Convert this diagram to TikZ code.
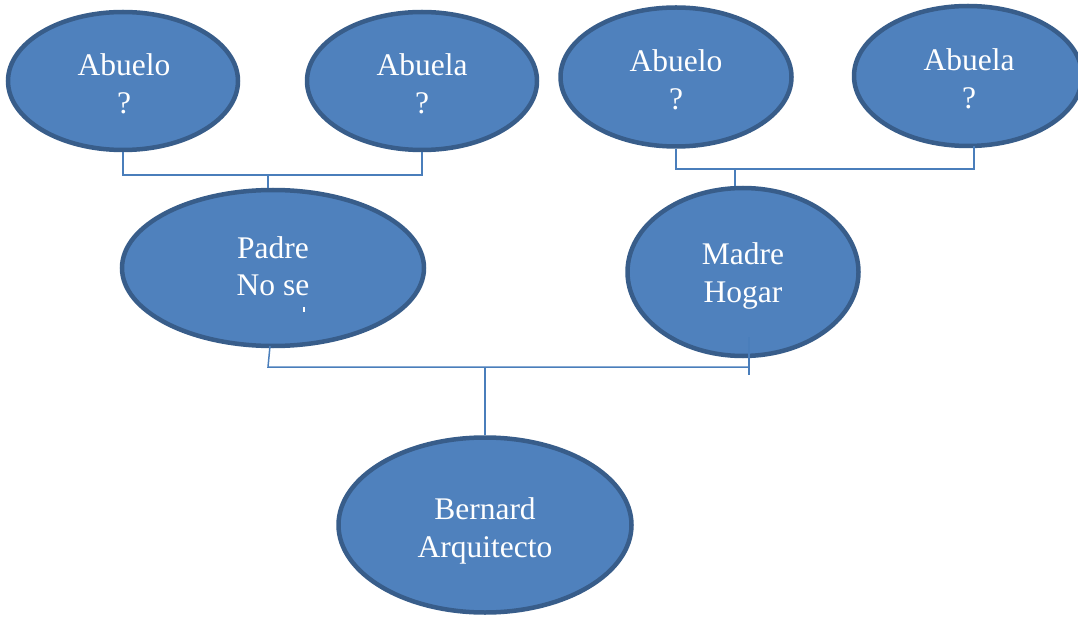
\documentclass[tikz,border=0pt]{standalone}
\usepackage{fontspec}
\setmainfont{Liberation Serif}
\usetikzlibrary{shapes.geometric}
\definecolor{ellfill}{HTML}{4F81BD}
\definecolor{elldraw}{HTML}{385D8A}
\definecolor{linkc}{HTML}{4A7EBB}
\begin{document}
\begin{tikzpicture}[x=1pt,y=-1pt,
  person/.style={ellipse, fill=ellfill, draw=elldraw, line width=4.5pt, inner sep=0pt},
  ptext/.style={text=white, align=center, inner sep=0pt, font=\fontsize{31.5}{37.5}\selectfont},
  link/.style={draw=linkc, line width=1.5pt}]
\path[use as bounding box] (0,0) rectangle (1078,620);
% grandparents
\node[person, minimum width=230pt, minimum height=138pt] (a1) at (123,81) {};
\node[person, minimum width=230pt, minimum height=138pt] (a2) at (422,81) {};
\node[person, minimum width=231pt, minimum height=139pt] (a3) at (676,77) {};
\node[person, minimum width=228pt, minimum height=140pt] (a4) at (968,76) {};
% parents
\node[person, minimum width=302pt, minimum height=156pt] (p) at (273,268) {};
\node[person, minimum width=231pt, minimum height=168pt] (m) at (743,272) {};
% child
\node[person, minimum width=293pt, minimum height=175pt] (b) at (485,525) {};
% texts
\node[ptext] (a1t) at (124,84) {Abuelo\\?};
\node[ptext] (a2t) at (422,84) {Abuela\\?};
\node[ptext] (a3t) at (676,80) {Abuelo\\?};
\node[ptext] (a4t) at (969,79) {Abuela\\?};
\node[ptext] (pt) at (273,266) {Padre\\No se};
\node[ptext] (mt) at (743,276) {Madre\\Hogar};
\node[ptext] (bt) at (485,531) {Bernard\\Arquitecto};
% clipped remnant of third text line in Padre
\fill[white] (303,307) rectangle (305,312);
% coordinates
\coordinate (j1) at (268,175);
\coordinate (j2) at (735,169);
\coordinate (ps) at (270,346);
\coordinate (pl) at (268,367);
\coordinate (ml) at (749,367);
\coordinate (mtop) at (749,337);
\coordinate (mb) at (749,375);
% connectors
\draw[link] (a1.south) |- (j1) -| (a2.south);
\draw[link] (j1) -- (j1 |- p.north);
\draw[link] (a3.south) -- (a3.south |- j2) -- (974,169) -- (974,146);
\draw[link] (j2) -- (j2 |- m.north);
\draw[link] (ps) -- (pl) -- (ml);
\draw[link] (mtop) -- (mb);
\draw[link] (b.north) -- (b.north |- pl);
\end{tikzpicture}
\end{document}
